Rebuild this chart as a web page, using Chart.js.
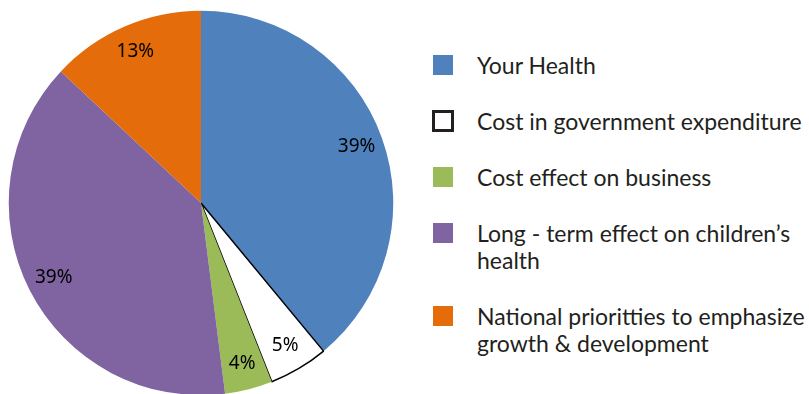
<!DOCTYPE html>
<html>
<head>
<meta charset="utf-8">
<script src="https://cdn.jsdelivr.net/npm/chart.js@4"></script>
<style>
  html, body { margin: 0; padding: 0; background: #fff; overflow: hidden; }
  body { width: 809px; height: 394px; position: relative; }
  #chart { position: absolute; left: 8px; top: 10px; }
  #legend { position: absolute; left: 433px; top: 52px; font-family: Lato, sans-serif; font-size: 23px; color: #231f20; white-space: nowrap; }
  .item { display: flex; align-items: flex-start; margin-bottom: 29px; line-height: 27px; }
  .box { width: 20px; height: 20px; margin-top: 3px; margin-right: 24px; flex: none; box-sizing: border-box; }
</style>
</head>
<body>
<canvas id="chart" width="386" height="386"></canvas>
<div id="legend"></div>
<script>
// Slices, clockwise from 12 o'clock
const categories = [
  'Your Health',
  'Cost in government expenditure',
  'Cost effect on business',
  ['Long - term effect on children\u2019s', 'health'],
  ['National prioritties to emphasize', 'growth & development']
];
const shares = [39, 5, 4, 39, 13];
const colors = ['#4f81bd', '#ffffff', '#9bbb59', '#8064a2', '#e46c0a'];

// Build the legend on the right
const legend = document.getElementById('legend');
categories.forEach((cat, i) => {
  const item = document.createElement('div');
  item.className = 'item';
  const box = document.createElement('div');
  box.className = 'box';
  box.style.background = colors[i];
  if (colors[i] === '#ffffff') {
    box.style.border = '3px solid #231f20';
    box.style.width = '22px';
    box.style.height = '22px';
    box.style.marginTop = '2px';
    box.style.marginLeft = '-1px';
    box.style.marginRight = '23px';
  }
  const text = document.createElement('div');
  text.innerHTML = [].concat(cat).join('<br>');
  item.appendChild(box);
  item.appendChild(text);
  legend.appendChild(item);
});

// Percent labels inside the slices
const sliceLabels = {
  id: 'sliceLabels',
  afterDatasetsDraw(chart) {
    const ctx = chart.ctx;
    const meta = chart.getDatasetMeta(0);
    ctx.save();
    ctx.font = '19px "Noto Sans", sans-serif';
    ctx.fillStyle = '#000';
    ctx.textAlign = 'center';
    ctx.textBaseline = 'middle';
    meta.data.forEach((arc, i) => {
      const p = arc.getProps(['x', 'y', 'startAngle', 'endAngle', 'outerRadius'], true);
      const mid = (p.startAngle + p.endAngle) / 2;
      const r = p.outerRadius * 0.86;
      ctx.fillText(shares[i] + '%', p.x + Math.cos(mid) * r, p.y + Math.sin(mid) * r);
    });
    ctx.restore();
  }
};

new Chart(document.getElementById('chart'), {
  type: 'pie',
  data: {
    labels: categories.map(c => [].concat(c).join(' ')),
    datasets: [{
      data: shares,
      backgroundColor: colors,
      borderColor: '#000',
      borderWidth: colors.map(c => c === '#ffffff' ? 1.5 : 0)
    }]
  },
  options: {
    responsive: false,
    animation: false,
    layout: { padding: 0 },
    plugins: {
      legend: { display: false },
      tooltip: { enabled: false }
    }
  },
  plugins: [sliceLabels]
});
</script>
</body>
</html>
